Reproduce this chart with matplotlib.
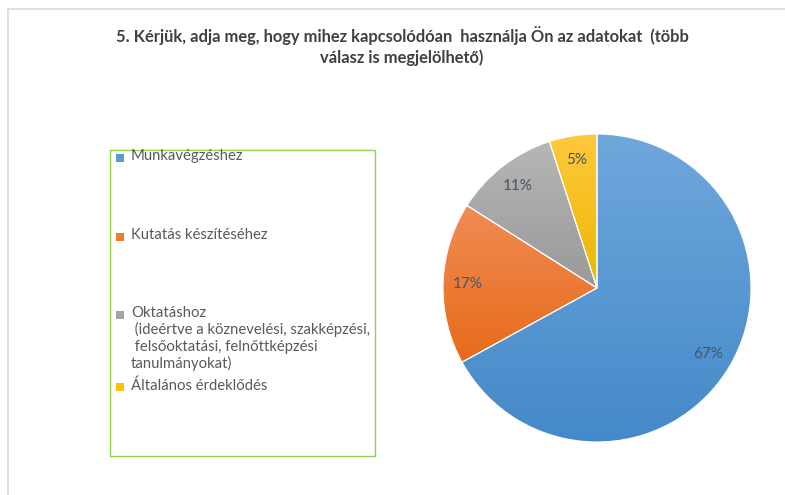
import matplotlib
matplotlib.use("Agg")
import matplotlib.pyplot as plt
import numpy as np
from matplotlib.patches import Rectangle
from matplotlib.lines import Line2D
from matplotlib.colors import LinearSegmentedColormap

# ---- data ----
categories = [
    "Munkavégzéshez",
    "Kutatás készítéséhez",
    "Oktatáshoz\n (ideértve a köznevelési, szakképzési,\n felsőoktatási, felnőttképzési\ntanulmányokat)",
    "Általános érdeklődés",
]
values = [67, 17, 11, 5]
pct_labels = ["67%", "17%", "11%", "5%"]
title = "5. Kérjük, adja meg, hogy mihez kapcsolódóan  használja Ön az adatokat  (több\nválasz is megjelölhető)"

top_colors = ["#6fa7dc", "#f08c55", "#b6b6b6", "#ffc83d"]
bottom_colors = ["#4489c9", "#e76a1a", "#999999", "#ebb800"]
legend_colors = ["#5b9bd5", "#ed7d31", "#a5a5a5", "#ffc000"]

W, H = 785, 495
fig = plt.figure(figsize=(W / 100, H / 100), dpi=100)
fig.patch.set_facecolor("white")
FONT = ["Lato", "DejaVu Sans"]

# outer chart border (light grey)
fig.add_artist(Line2D([8 / W, 1], [1 - 9 / H, 1 - 9 / H], color="#d9d9d9", lw=1.2))
fig.add_artist(Line2D([8 / W, 8 / W], [0, 1 - 9 / H], color="#d9d9d9", lw=1.2))

# title
fig.text(402 / W, 1 - 46 / H, title, ha="center", va="center", fontsize=11.9,
         fontweight="bold", color="#404040", family=FONT, linespacing=1.3)

# pie
cx, cy, r = 597, 288, 154
ax = fig.add_axes([(cx - r) / W, 1 - (cy + r) / H, 2 * r / W, 2 * r / H])
wedges, texts = ax.pie(values, startangle=90, counterclock=False, radius=1,
                       labels=pct_labels, labeldistance=0.84,
                       colors=legend_colors,
                       wedgeprops=dict(edgecolor="white", linewidth=0.8),
                       textprops=dict(fontsize=11, color="#44546a", family=FONT,
                                      ha="center", va="center"))
ax.axis("off")
for w, ct, cb in zip(wedges, top_colors, bottom_colors):
    ext = w.get_path().get_extents()
    cmap = LinearSegmentedColormap.from_list("g", [cb, ct])
    grad = np.linspace(0, 1, 256).reshape(-1, 1)
    im = ax.imshow(grad, cmap=cmap, origin="lower", aspect="auto",
                   extent=[ext.x0, ext.x1, ext.y0, ext.y1], zorder=w.get_zorder() + 0.1)
    im.set_clip_path(w)
    w.set_facecolor("none")
    w.set_zorder(w.get_zorder() + 0.2)
for t in texts:
    t.set_zorder(5)
ax.set_xlim(-1, 1)
ax.set_ylim(-1, 1)

# legend box
lx0, ly0, lx1, ly1 = 110, 150, 375, 456
fig.add_artist(Rectangle((lx0 / W, 1 - ly1 / H), (lx1 - lx0) / W, (ly1 - ly0) / H,
                         fill=False, edgecolor="#92d050", lw=1.0))
entry_y = [158, 237, 315, 387]
for lab, col, yy in zip(categories, legend_colors, entry_y):
    s = 7.5
    fig.add_artist(Rectangle((116 / W, 1 - (yy + s / 2) / H), s / W, s / H,
                             facecolor=col, edgecolor="none"))
    fig.text(131 / W, 1 - (yy - 9) / H, lab, ha="left", va="top", fontsize=10.7,
             color="#595959", family=FONT, linespacing=1.2)

fig.savefig("out.png", dpi=100)
